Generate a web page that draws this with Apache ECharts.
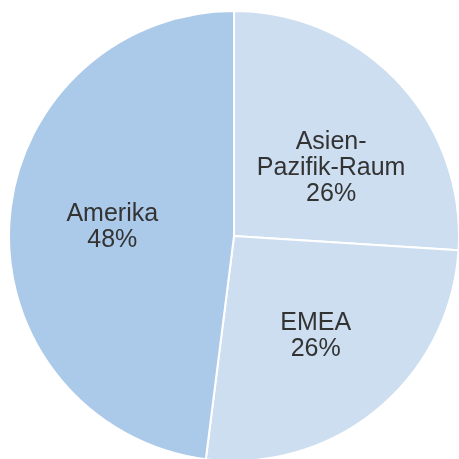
<!DOCTYPE html>
<html>
<head>
<meta charset="utf-8">
<script src="https://cdn.jsdelivr.net/npm/echarts@6/dist/echarts.min.js"></script>
<style>
html,body{margin:0;padding:0;background:#fff;}
#chart{width:459px;height:459px;}
</style>
</head>
<body>
<div id="chart"></div>
<script>
var regions=['Asien-Pazifik-Raum','EMEA','Amerika'];
var shares=[26,26,48];
var colors=['#cddef0','#cddef0','#abc9e8'];

var pieData=regions.map(function(n,i){
	return {name:n,value:shares[i],itemStyle:{color:colors[i]}};
});
var labelData=regions.map(function(n,i){
	return {name:n,value:shares[i]};
});
// small nudges so the labels sit where the original has them
var nudge=[[6,18],[2,4],[3,-1]];

var chart=echarts.init(document.getElementById('chart'));
chart.setOption({
	animation:false,
	series:[
	{
		type:'pie',
		radius:[0,225],
		center:[234,236],
		startAngle:90,
		clockwise:true,
		silent:true,
		itemStyle:{borderColor:'#fff',borderWidth:2},
		label:{show:false},
		labelLine:{show:false},
		data:pieData
	},
	{
		// transparent copy, only to put the labels a bit further out
		type:'pie',
		radius:[0,244],
		center:[234,236],
		startAngle:90,
		clockwise:true,
		silent:true,
		itemStyle:{color:'rgba(0,0,0,0)'},
		label:{
			show:true,
			position:'inside',
			formatter:function(p){
				return p.name.replace('Asien-','Asien-\n')+'\n'+p.percent+'%';
			},
			fontFamily:'Liberation Sans',
			fontSize:25,
			lineHeight:26,
			color:'#333'
		},
		labelLayout:function(p){
			return {dx:nudge[p.dataIndex][0],dy:nudge[p.dataIndex][1]};
		},
		labelLine:{show:false},
		data:labelData
	}]
});
</script>
</body>
</html>
